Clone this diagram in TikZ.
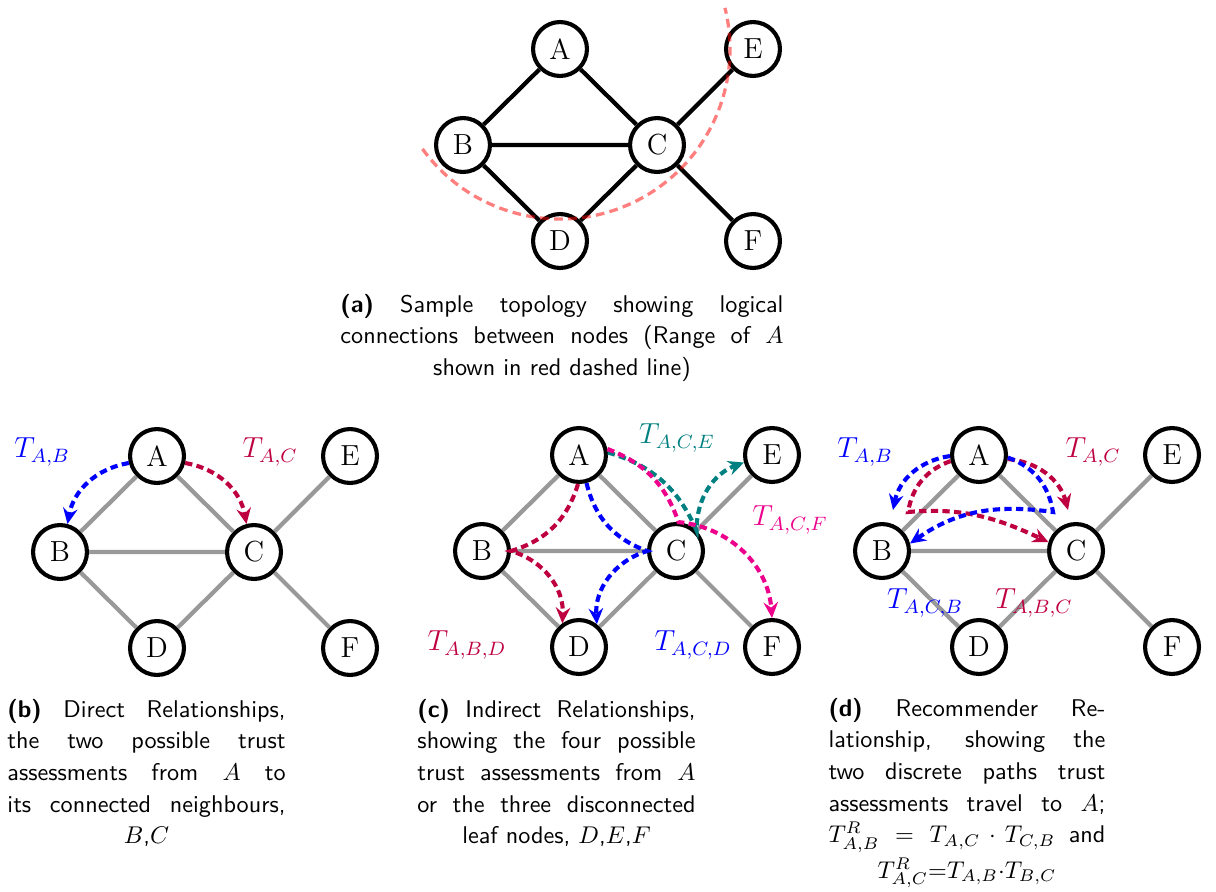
\documentclass[tikz,border=0pt]{standalone}
\usetikzlibrary{arrows.meta,calc}
\definecolor{tpurple}{RGB}{191,0,64}
\definecolor{tteal}{RGB}{0,128,128}
\definecolor{tmag}{RGB}{236,0,140}
\definecolor{tblue}{RGB}{0,0,255}
\newcommand\mkgraph[3]{%
  \node[vtx] (#1B) at (#2,#3) {B};
  \node[vtx] (#1A) at (#2+97,#3+96) {A};
  \node[vtx] (#1C) at (#2+194,#3) {C};
  \node[vtx] (#1D) at (#2+97,#3-96) {D};
  \node[vtx] (#1E) at (#2+290,#3+96) {E};
  \node[vtx] (#1F) at (#2+290,#3-96) {F};
}
\newcommand\mkedges[2]{%
  \draw[#2] (#1A)--(#1B) (#1A)--(#1C) (#1B)--(#1C) (#1B)--(#1D)
            (#1C)--(#1D) (#1C)--(#1E) (#1C)--(#1F);
}
\newcommand\captfont{\fontsize{10}{13.1}\selectfont\sffamily
  \leftskip=0pt plus 1fil\rightskip=0pt plus -1fil\parfillskip=0pt plus 2fil
  \parindent=0pt}
\begin{document}
\begin{tikzpicture}[x=0.4135pt,y=0.4135pt,
  vtx/.style={circle,draw=black,line width=1.7pt,minimum size=22.3pt,
    inner sep=0pt,fill=white,font=\large},
  edgeblack/.style={line width=1.75pt,black},
  edgegray/.style={line width=1.75pt,black!40},
  trust/.style={line width=1.7pt,dash pattern=on 3pt off 1.8pt,
    -{Stealth[length=6.5pt,width=6pt,inset=2.2pt]}},
  lbl/.style={inner sep=0pt,font=\large},
  capt/.style={anchor=base west,inner sep=0pt},
  rangeline/.style={line width=1.35pt,red,opacity=0.5,dash pattern=on 3.6pt off 2.2pt}]
\useasboundingbox[fill=white] (0,0) rectangle (1216,-891);

% ---------- (a)
\mkgraph{a}{463}{-145}
\mkedges{a}{edgeblack}
\draw[rangeline] (aA) ++(216:170) arc[start angle=216,end angle=374,radius=170];
\node[capt] (capa) at (340,-312) {\parbox[t]{183.2pt}{\captfont
  \textbf{(a)} Sample topology showing logical\linebreak
  connections between nodes (Range of $A$\linebreak
  shown in red dashed line)}};

% ---------- (b)
\mkgraph{b}{60}{-552}
\mkedges{b}{edgegray}
\draw[trust,tblue] (bA.194) to[bend right=35] (bB.75);
\draw[trust,tpurple] (bA.-14) to[bend left=35] (bC.105);
\node[lbl,tblue] (lbAB) at (42,-452) {$T_{A,B}$};
\node[lbl,tpurple] (lbAC) at (270,-452) {$T_{A,C}$};
\node[capt] (capb) at (7,-717) {\parbox[t]{115pt}{\captfont
  \textbf{(b)} Direct Relationships,\linebreak
  the two possible trust\linebreak
  assessments from $A$ to\linebreak
  its connected neighbours,\linebreak
  $B$,$C$}};

% ---------- (c)
\mkgraph{c}{482}{-551}
\mkedges{c}{edgegray}
\draw[trust,tpurple] (cA.268) to[bend left=28] (cB.east) to[bend left=38] (cD.125);
\draw[trust,tblue] (cA.285) to[bend right=28] (cC.west) to[bend right=38] (cD.52);
\draw[trust,tteal] (cA.5) to[bend left=25] (cC.45) to[bend left=35] (cE.195);
\draw[trust,tmag] (cA.12) to[bend left=25] (cC.85) to[bend left=40] (cF.north);
\node[lbl,tteal] (lcACE) at (677,-438) {$T_{A,C,E}$};
\node[lbl,tmag] (lcACF) at (790,-520) {$T_{A,C,F}$};
\node[lbl,tpurple] (lcABD) at (467,-645) {$T_{A,B,D}$};
\node[lbl,tblue] (lcACD) at (693,-645) {$T_{A,C,D}$};
\node[capt] (capc) at (417,-717) {\parbox[t]{115pt}{\captfont
  \textbf{(c)} Indirect Relationships,\linebreak
  showing the four possible\linebreak
  trust assessments from $A$\linebreak
  or the three disconnected\linebreak
  leaf nodes, $D$,$E$,$F$}};

% ---------- (d)
\mkgraph{d}{882}{-551}
\mkedges{d}{edgegray}
\coordinate (dBt) at (893,-510);
\coordinate (dCt) at (1068,-510);
\coordinate (dP) at (908,-512);
\coordinate (dQ) at (1053,-512);
\draw[trust,tblue] (dA.182) to[bend right=35] (dBt);
\draw[trust,tpurple] (dA.-8) to[bend left=35] (dCt);
\draw[trust,tpurple] (dA.192) to[bend right=30] (dP) to[out=5,in=155] (dC.162);
\draw[trust,tblue] (dA.-5) to[bend left=30] (dQ) to[out=172,in=35] (dB.15);
\node[lbl,tblue] (ldAB) at (865,-452) {$T_{A,B}$};
\node[lbl,tpurple] (ldAC) at (1093,-452) {$T_{A,C}$};
\node[lbl,tblue] (ldACB) at (925,-603) {$T_{A,C,B}$};
\node[lbl,tpurple] (ldABC) at (1034,-603) {$T_{A,B,C}$};
\node[capt] (capd) at (828,-716) {\parbox[t]{114.5pt}{\captfont
  \textbf{(d)} Recommender Re-\linebreak
  lationship, showing the\linebreak
  two discrete paths trust\linebreak
  assessments travel to $A$;\linebreak
  $T^R_{A,B} = T_{A,C} \cdot T_{C,B}$ and\vadjust{\kern1.5pt}\linebreak
  $T^R_{A,C}{=}T_{A,B}{\cdot}T_{B,C}$}};
\end{tikzpicture}
\end{document}
